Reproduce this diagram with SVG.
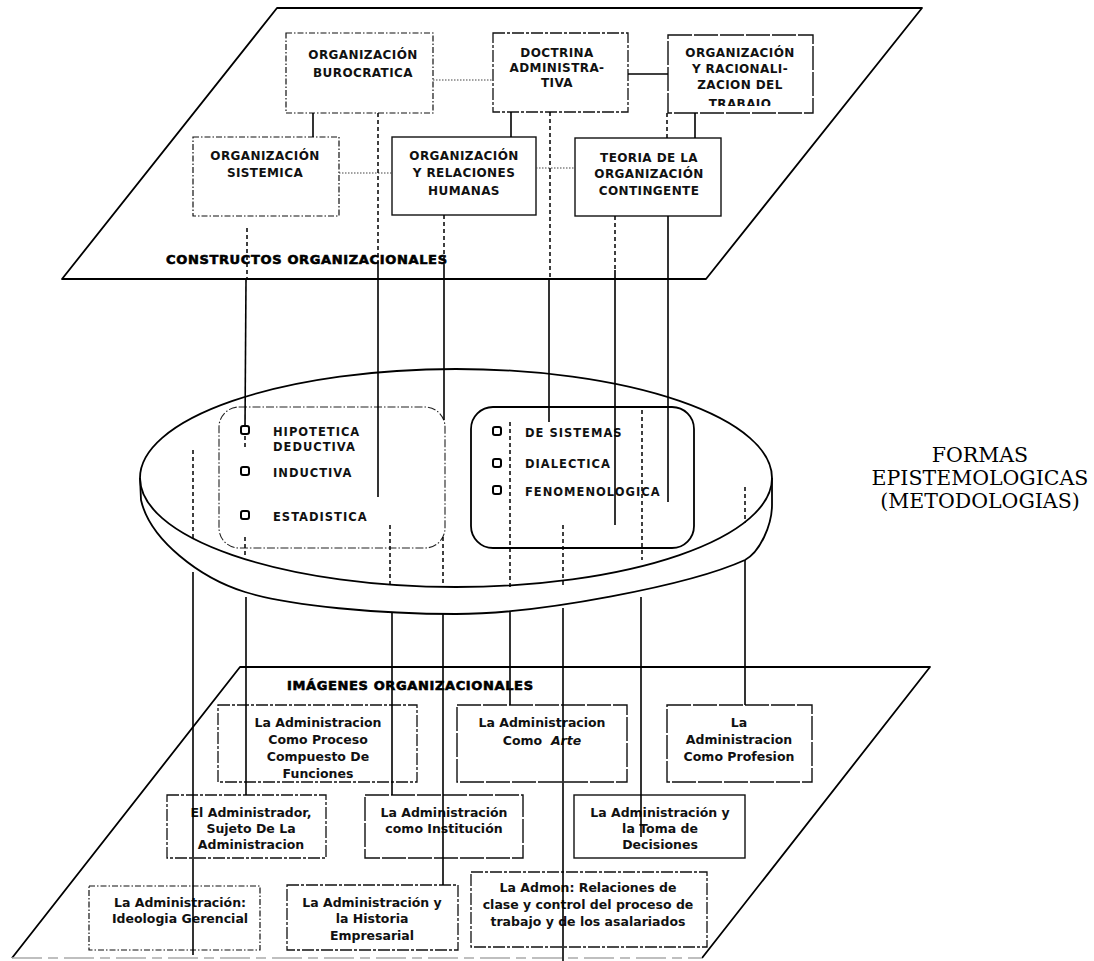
<svg xmlns="http://www.w3.org/2000/svg" width="1094" height="961" viewBox="0 0 1094 961">
<defs>
<style>
.edge{fill:none;stroke:#000;stroke-width:1.8;stroke-linejoin:round}
.bs{fill:none;stroke:#111;stroke-width:1.4}
.bd{fill:none;stroke:#111;stroke-width:1.3;stroke-dasharray:12 2 3 2}
.bdd{fill:none;stroke:#111;stroke-width:1.2;stroke-dasharray:6 2 1.5 2}
.bn{fill:none;stroke:#111;stroke-width:1.4;stroke-dasharray:24 2}
.sol{stroke:#000;stroke-width:1.6;fill:none}
.dsh{stroke:#000;stroke-width:1.5;stroke-dasharray:4 3;fill:none}
.dot{stroke:#444;stroke-width:1.2;stroke-dasharray:1.5 1.5;fill:none}
.tt{font-family:"DejaVu Sans",sans-serif;font-weight:bold;font-size:12px;letter-spacing:0.4px;text-anchor:middle;fill:#111}
.tb{font-family:"DejaVu Sans",sans-serif;font-weight:bold;font-size:12.5px;text-anchor:middle;fill:#111}
.tm{font-family:"DejaVu Sans",sans-serif;font-weight:bold;font-size:11.5px;letter-spacing:1px;fill:#111}
.hd{font-family:"DejaVu Sans",sans-serif;font-weight:bold;font-size:13px;fill:#000;stroke:#000;stroke-width:0.6}
.sf{font-family:"DejaVu Serif",serif;font-size:20.5px;text-anchor:middle;fill:#000}
.bul{fill:#fff;stroke:#000;stroke-width:2}
</style>
<clipPath id="clipR"><rect x="668" y="33" width="145" height="73"/></clipPath>
</defs>
<rect width="1094" height="961" fill="#fff"/>

<g id="plano-constructos">
<polygon class="edge" points="277,8 922,8 706,279 62,279"/>
<text class="hd" x="166" y="264" textLength="281" lengthAdjust="spacing">CONSTRUCTOS ORGANIZACIONALES</text>
</g>

<g id="n-burocratica">
<rect class="bdd" x="286" y="33" width="147" height="80"/>
<text class="tt" x="363" y="59">ORGANIZACIÓN</text>
<text class="tt" x="363" y="77">BUROCRATICA</text>
</g>
<g id="n-doctrina">
<rect class="bd" x="493" y="33" width="135" height="79"/>
<text class="tt" x="557" y="57">DOCTRINA</text>
<text class="tt" x="557" y="72">ADMINISTRA-</text>
<text class="tt" x="557" y="87">TIVA</text>
</g>
<g id="n-racionalizacion">
<rect class="bn" x="668" y="35" width="145" height="78"/>
<g clip-path="url(#clipR)">
<text class="tt" x="740" y="57">ORGANIZACIÓN</text>
<text class="tt" x="740" y="73">Y RACIONALI-</text>
<text class="tt" x="740" y="89">ZACION DEL</text>
<text class="tt" x="740" y="108">TRABAJO</text>
</g>
</g>
<g id="n-sistemica">
<rect class="bdd" x="193" y="137" width="146" height="79"/>
<text class="tt" x="265" y="160">ORGANIZACIÓN</text>
<text class="tt" x="265" y="177">SISTEMICA</text>
</g>
<g id="n-relaciones">
<rect class="bs" x="392" y="137" width="144" height="78"/>
<text class="tt" x="464" y="160">ORGANIZACIÓN</text>
<text class="tt" x="464" y="177">Y RELACIONES</text>
<text class="tt" x="464" y="195">HUMANAS</text>
</g>
<g id="n-contingente">
<rect class="bs" x="575" y="138" width="146" height="78"/>
<text class="tt" x="649" y="162">TEORIA DE LA</text>
<text class="tt" x="649" y="178">ORGANIZACIÓN</text>
<text class="tt" x="649" y="195">CONTINGENTE</text>
</g>

<g id="disco-metodologias">
<ellipse class="edge" cx="456" cy="478" rx="316" ry="109"/>
<path class="edge" d="M140,478 L141,500 C150,540 200,578 245,592 C290,606 380,614 456,614 C540,614 690,585 745,560 C760,552 772,525 772,505 L772,478"/>
</g>
<g id="n-metodos-a">
<rect x="219" y="407" width="226" height="141" rx="20" fill="none" stroke="#222" stroke-width="1.1" stroke-dasharray="8 2 1.5 2"/>
<rect class="bul" x="241" y="426" width="8" height="8" rx="2"/>
<rect class="bul" x="241" y="467" width="8" height="8" rx="2"/>
<rect class="bul" x="241" y="511" width="8" height="8" rx="2"/>
<text class="tm" x="273" y="436">HIPOTETICA</text>
<text class="tm" x="273" y="451">DEDUCTIVA</text>
<text class="tm" x="273" y="477">INDUCTIVA</text>
<text class="tm" x="273" y="521">ESTADISTICA</text>
</g>
<g id="n-metodos-b">
<rect x="471" y="407" width="223" height="141" rx="22" fill="none" stroke="#000" stroke-width="1.8"/>
<rect class="bul" x="493" y="427" width="8" height="8" rx="2"/>
<rect class="bul" x="493" y="459" width="8" height="8" rx="2"/>
<rect class="bul" x="493" y="486" width="8" height="8" rx="2"/>
<text class="tm" x="525" y="437">DE SISTEMAS</text>
<text class="tm" x="525" y="468">DIALECTICA</text>
<text class="tm" x="525" y="496">FENOMENOLOGICA</text>
</g>

<g id="n-formas">
<text class="sf" x="980" y="462">FORMAS</text>
<text class="sf" x="980" y="485">EPISTEMOLOGICAS</text>
<text class="sf" x="980" y="508">(METODOLOGIAS)</text>
</g>

<g id="plano-imagenes">
<polyline class="edge" points="12,958 240,667 930,667 702,958"/>
<line x1="12" y1="958" x2="702" y2="958" stroke="#aaa" stroke-width="1.3" stroke-dasharray="30 6 10 6"/>
<text class="hd" x="287" y="690" textLength="246" lengthAdjust="spacing">IMÁGENES ORGANIZACIONALES</text>
</g>

<g id="n-proceso">
<rect class="bd" x="218" y="705" width="199" height="77"/>
<text class="tb" x="318" y="727">La Administracion</text>
<text class="tb" x="318" y="744">Como Proceso</text>
<text class="tb" x="318" y="761">Compuesto De</text>
<text class="tb" x="318" y="778">Funciones</text>
</g>
<g id="n-arte">
<rect class="bn" x="457" y="705" width="170" height="77"/>
<text class="tb" x="542" y="727">La Administracion</text>
<text class="tb" x="542" y="745" style="white-space:pre">Como  <tspan font-style="italic">Arte</tspan></text>
</g>
<g id="n-profesion">
<rect class="bn" x="667" y="705" width="145" height="77"/>
<text class="tb" x="739" y="727">La</text>
<text class="tb" x="739" y="744">Administracion</text>
<text class="tb" x="739" y="761">Como Profesion</text>
</g>
<g id="n-administrador">
<rect class="bd" x="167" y="795" width="159" height="63"/>
<text class="tb" x="251" y="817">El Administrador,</text>
<text class="tb" x="251" y="833">Sujeto De La</text>
<text class="tb" x="251" y="849">Administracion</text>
</g>
<g id="n-institucion">
<rect class="bn" x="365" y="795" width="158" height="63"/>
<text class="tb" x="444" y="817">La Administración</text>
<text class="tb" x="444" y="833">como Institución</text>
</g>
<g id="n-decisiones">
<rect class="bs" x="574" y="795" width="171" height="63"/>
<text class="tb" x="660" y="817">La Administración y</text>
<text class="tb" x="660" y="833">la Toma de</text>
<text class="tb" x="660" y="849">Decisiones</text>
</g>
<g id="n-ideologia">
<rect class="bdd" x="89" y="886" width="171" height="64"/>
<text class="tb" x="180" y="907">La Administración:</text>
<text class="tb" x="180" y="923">Ideologia Gerencial</text>
</g>
<g id="n-historia">
<rect class="bd" x="287" y="885" width="171" height="65"/>
<text class="tb" x="372" y="907">La Administración y</text>
<text class="tb" x="372" y="923">la Historia</text>
<text class="tb" x="372" y="940">Empresarial</text>
</g>
<g id="n-admon">
<rect class="bd" x="471" y="872" width="236" height="75"/>
<text class="tb" x="588" y="892">La Admon: Relaciones de</text>
<text class="tb" x="588" y="909">clase y control del proceso de</text>
<text class="tb" x="588" y="926">trabajo y de los asalariados</text>
</g>

<g id="connectors">
<line class="dot" x1="433" y1="80" x2="493" y2="80"/>
<line class="sol" x1="628" y1="74" x2="668" y2="74"/>
<line class="dot" x1="339" y1="173" x2="392" y2="173"/>
<line class="dot" x1="536" y1="168" x2="575" y2="168"/>
<line class="sol" x1="313" y1="113" x2="313" y2="137"/>
<line class="sol" x1="511" y1="112" x2="511" y2="137"/>
<line class="dsh" x1="667" y1="113" x2="667" y2="138"/>
<line class="sol" x1="695" y1="113" x2="695" y2="138"/>
<line class="dsh" x1="247" y1="228" x2="247" y2="280"/>
<line class="sol" x1="246" y1="280" x2="245" y2="426"/>
<line class="dsh" x1="245" y1="436" x2="245" y2="450"/>
<line class="dsh" x1="378" y1="113" x2="378" y2="262"/>
<line class="sol" x1="378" y1="262" x2="378" y2="497"/>
<line class="dsh" x1="444" y1="215" x2="444" y2="265"/>
<line class="sol" x1="444" y1="265" x2="444" y2="420"/>
<line class="dsh" x1="550" y1="112" x2="550" y2="279"/>
<line class="sol" x1="549" y1="279" x2="549" y2="422"/>
<line class="dsh" x1="615" y1="216" x2="615" y2="270"/>
<line class="sol" x1="615" y1="270" x2="615" y2="525"/>
<line class="sol" x1="668" y1="216" x2="668" y2="502"/>
<line class="dsh" x1="193" y1="450" x2="193" y2="538"/>
<line class="sol" x1="193" y1="572" x2="193" y2="955"/>
<line class="dsh" x1="245" y1="537" x2="245" y2="558"/>
<line class="sol" x1="246" y1="597" x2="246" y2="795"/>
<line class="dsh" x1="390" y1="525" x2="390" y2="585"/>
<line class="sol" x1="392" y1="612" x2="392" y2="795"/>
<line class="dsh" x1="443" y1="537" x2="443" y2="587"/>
<line class="sol" x1="443" y1="613" x2="443" y2="885"/>
<line class="dsh" x1="510" y1="422" x2="510" y2="587"/>
<line class="sol" x1="510" y1="612" x2="510" y2="705"/>
<line class="dsh" x1="563" y1="525" x2="563" y2="588"/>
<line class="sol" x1="563" y1="608" x2="563" y2="961"/>
<line class="dsh" x1="642" y1="410" x2="642" y2="560"/>
<line class="sol" x1="641" y1="597" x2="641" y2="837"/>
<line class="dsh" x1="745" y1="487" x2="745" y2="523"/>
<line class="sol" x1="745" y1="560" x2="745" y2="705"/>
</g>
</svg>
